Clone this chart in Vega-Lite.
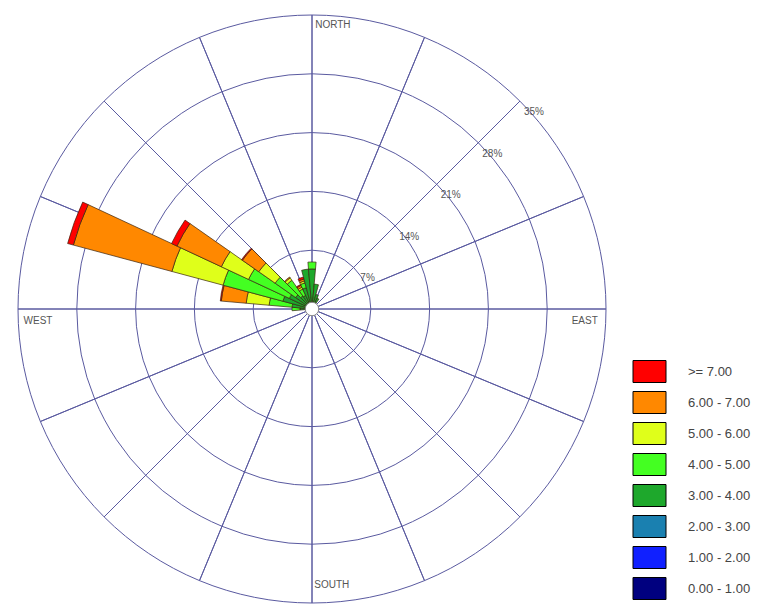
{
  "$schema": "https://vega.github.io/schema/vega-lite/v6.json",
  "width": 624,
  "height": 618,
  "padding": 0,
  "autosize": {"type": "pad"},
  "background": "white",
  "config": {"view": {"stroke": null}, "font": "Liberation Sans"},
  "layer": [
    {
      "data": {"values": [{"r": 7}, {"r": 14}, {"r": 21}, {"r": 28}, {"r": 35}]},
      "mark": {"type": "arc", "filled": false, "stroke": "#5a5aa0", "strokeWidth": 1},
      "encoding": {
        "theta": {"datum": 0, "type": "quantitative", "stack": null, "scale": {"domain": [0, 360], "range": [0, 6.283185307179586]}},
        "theta2": {"datum": 360},
        "radius": {"field": "r", "type": "quantitative", "stack": null, "scale": {"type": "linear", "domain": [0, 35], "range": [0, 294], "zero": true}}
      }
    },
    {
      "data": {"values": [
        {"a": 0}, {"a": 22.5}, {"a": 45}, {"a": 67.5}, {"a": 90}, {"a": 112.5}, {"a": 135}, {"a": 157.5},
        {"a": 180}, {"a": 202.5}, {"a": 225}, {"a": 247.5}, {"a": 270}, {"a": 292.5}, {"a": 315}, {"a": 337.5}
      ]},
      "mark": {"type": "arc", "filled": false, "stroke": "#5a5aa0", "strokeWidth": 1},
      "encoding": {
        "theta": {"field": "a", "type": "quantitative", "stack": null},
        "theta2": {"field": "a"},
        "radius": {"datum": 35, "type": "quantitative", "stack": null}
      }
    },
    {
      "data": {"values": [
        {"d": 270, "a0": 265, "a1": 275, "k0": 0.12, "k1": 0.12, "k2": 0.24, "k3": 0.95, "k4": 0.95, "k5": 0, "k6": 0, "k7": 0},
        {"d": 280, "a0": 275, "a1": 285, "k0": 0.12, "k1": 0.12, "k2": 0.24, "k3": 1.90, "k4": 2.74, "k5": 2.74, "k6": 2.98, "k7": 0.12},
        {"d": 290, "a0": 285, "a1": 295, "k0": 0.12, "k1": 0.24, "k2": 0.36, "k3": 2.86, "k4": 7.38, "k5": 6.31, "k6": 12.14, "k7": 0.71},
        {"d": 300, "a0": 295, "a1": 305, "k0": 0.12, "k1": 0.24, "k2": 0.36, "k3": 2.26, "k4": 5.36, "k5": 3.57, "k6": 5.83, "k7": 0.71},
        {"d": 310, "a0": 305, "a1": 315, "k0": 0.12, "k1": 0.12, "k2": 0.24, "k3": 1.90, "k4": 2.98, "k5": 2.38, "k6": 2.38, "k7": 0.12},
        {"d": 320, "a0": 315, "a1": 325, "k0": 0.12, "k1": 0.12, "k2": 0.24, "k3": 1.43, "k4": 2.26, "k5": 0.36, "k6": 0.12, "k7": 0},
        {"d": 330, "a0": 325, "a1": 335, "k0": 0.12, "k1": 0.12, "k2": 0.24, "k3": 1.31, "k4": 0.83, "k5": 0.24, "k6": 0.24, "k7": 0.12},
        {"d": 340, "a0": 335, "a1": 345, "k0": 0.12, "k1": 0.12, "k2": 0.24, "k3": 2.14, "k4": 0.60, "k5": 0.24, "k6": 0.24, "k7": 0.24},
        {"d": 350, "a0": 345, "a1": 355, "k0": 0.12, "k1": 0.12, "k2": 0.24, "k3": 4.29, "k4": 0, "k5": 0, "k6": 0, "k7": 0},
        {"d": 0, "a0": -5, "a1": 5, "k0": 0.12, "k1": 0.12, "k2": 0.24, "k3": 4.29, "k4": 0.83, "k5": 0, "k6": 0, "k7": 0},
        {"d": 10, "a0": 5, "a1": 15, "k0": 0.12, "k1": 0.12, "k2": 0.24, "k3": 2.50, "k4": 0, "k5": 0, "k6": 0, "k7": 0},
        {"d": 20, "a0": 15, "a1": 25, "k0": 0.12, "k1": 0.12, "k2": 0.24, "k3": 1.31, "k4": 0, "k5": 0, "k6": 0, "k7": 0},
        {"d": 30, "a0": 25, "a1": 35, "k0": 0.12, "k1": 0.12, "k2": 0.24, "k3": 0.95, "k4": 0, "k5": 0, "k6": 0, "k7": 0}
      ]},
      "transform": [
        {"fold": ["k0", "k1", "k2", "k3", "k4", "k5", "k6", "k7"], "as": ["key", "pct"]},
        {"filter": "datum.pct > 0"},
        {"lookup": "key", "from": {"data": {"values": [
          {"key": "k0", "cls": "0.00 - 1.00"},
          {"key": "k1", "cls": "1.00 - 2.00"},
          {"key": "k2", "cls": "2.00 - 3.00"},
          {"key": "k3", "cls": "3.00 - 4.00"},
          {"key": "k4", "cls": "4.00 - 5.00"},
          {"key": "k5", "cls": "5.00 - 6.00"},
          {"key": "k6", "cls": "6.00 - 7.00"},
          {"key": "k7", "cls": ">= 7.00"}
        ]}, "key": "key", "fields": ["cls"]}},
        {"stack": "pct", "groupby": ["d"], "sort": [{"field": "key", "order": "ascending"}], "as": ["r0", "r1"]}
      ],
      "mark": {"type": "arc", "stroke": "#3a2410", "strokeWidth": 0.7},
      "encoding": {
        "theta": {"field": "a0", "type": "quantitative", "stack": null},
        "theta2": {"field": "a1"},
        "radius": {"field": "r1", "type": "quantitative", "stack": null},
        "radius2": {"field": "r0"},
        "color": {
          "field": "cls", "type": "nominal",
          "scale": {
            "domain": [">= 7.00", "6.00 - 7.00", "5.00 - 6.00", "4.00 - 5.00", "3.00 - 4.00", "2.00 - 3.00", "1.00 - 2.00", "0.00 - 1.00"],
            "range": ["#ff0000", "#ff8800", "#dfff1a", "#44ff22", "#1ea82c", "#1a80b0", "#1020ff", "#00007f"]
          },
          "legend": {
            "title": null, "orient": "none", "legendX": 638, "legendY": 360,
            "symbolType": "M-1.5,-1H1.5V1H-1.5Z", "symbolSize": 484,
            "symbolStrokeColor": "#000000", "symbolStrokeWidth": 1, "symbolOpacity": 1,
            "labelFontSize": 13, "labelColor": "#444444", "labelFont": "Liberation Sans",
            "labelOffset": 27, "rowPadding": 4, "padding": 0
          }
        }
      }
    },
    {
      "data": {"values": [{"r": 0.8}]},
      "mark": {"type": "arc", "fill": "#ffffff", "stroke": "#888888", "strokeWidth": 1},
      "encoding": {
        "theta": {"datum": 0, "type": "quantitative", "stack": null},
        "theta2": {"datum": 360},
        "radius": {"field": "r", "type": "quantitative", "stack": null}
      }
    },
    {
      "data": {"values": [{"r": 7, "lab": "7%"}, {"r": 14, "lab": "14%"}, {"r": 21, "lab": "21%"}, {"r": 28, "lab": "28%"}, {"r": 35, "lab": "35%"}]},
      "mark": {"type": "text", "fontSize": 10, "color": "#555555", "dx": 14, "dy": 11, "font": "Liberation Sans"},
      "encoding": {
        "theta": {"datum": 45, "type": "quantitative", "stack": null},
        "radius": {"field": "r", "type": "quantitative", "stack": null},
        "text": {"field": "lab"}
      }
    },
    {
      "data": {"values": [
        {"t": "NORTH", "a": 4.2, "r": 33.9},
        {"t": "EAST", "a": 92.5, "r": 32.5},
        {"t": "SOUTH", "a": 175.9, "r": 32.9},
        {"t": "WEST", "a": 267.5, "r": 32.65}
      ]},
      "mark": {"type": "text", "fontSize": 10, "color": "#555555", "font": "Liberation Sans"},
      "encoding": {
        "theta": {"field": "a", "type": "quantitative", "stack": null},
        "radius": {"field": "r", "type": "quantitative", "stack": null},
        "text": {"field": "t"}
      }
    }
  ]
}
